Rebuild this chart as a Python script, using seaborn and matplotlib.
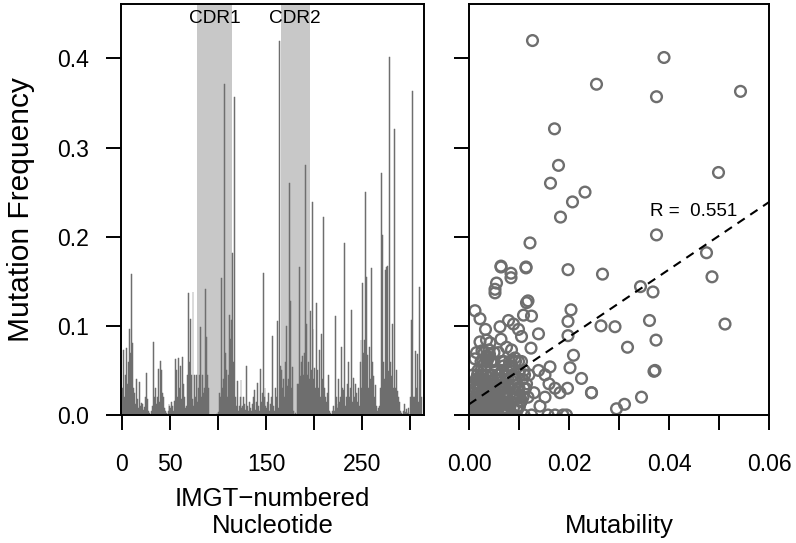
import numpy as np
import pandas as pd
import matplotlib
matplotlib.use("Agg")
import matplotlib.pyplot as plt
import seaborn as sns

# mutation frequency per IMGT-numbered nucleotide (1..312)
mutation_freq = [
    0.030, 0.073, 0.020, 0.045, 0.075, 0.035, 0.060, 0.096, 0.070, 0.158,   # 1-10
    0.081, 0.030, 0.025, 0.012, 0.040, 0.018, 0.008, 0.037, 0.010, 0.013,   # 11-20
    0.012, 0.006, 0.009, 0.004, 0.020, 0.047, 0.018, 0.005, 0.002, 0.000,   # 21-30
    0.004, 0.010, 0.082, 0.020, 0.030, 0.012, 0.020, 0.052, 0.015, 0.061,   # 31-40
    0.050, 0.025, 0.020, 0.008, 0.004, 0.002, 0.000, 0.005, 0.012, 0.010,   # 41-50
    0.008, 0.015, 0.010, 0.005, 0.016, 0.063, 0.050, 0.020, 0.064, 0.030,   # 51-60
    0.055, 0.018, 0.065, 0.035, 0.020, 0.008, 0.010, 0.045, 0.137, 0.060,   # 61-70
    0.108, 0.045, 0.018, 0.138, 0.010, 0.045, 0.020, 0.045, 0.015, 0.030,   # 71-80
    0.045, 0.099, 0.020, 0.045, 0.025, 0.030, 0.141, 0.088, 0.045, 0.030,   # 81-90
    0.000, 0.000, 0.000, 0.000, 0.000, 0.000, 0.000, 0.000, 0.002, 0.000,   # 91-100
    0.003, 0.025, 0.020, 0.154, 0.030, 0.040, 0.371, 0.070, 0.050, 0.020,   # 101-110
    0.045, 0.112, 0.085, 0.106, 0.182, 0.060, 0.357, 0.020, 0.010, 0.038,   # 111-120
    0.005, 0.010, 0.020, 0.039, 0.008, 0.010, 0.020, 0.012, 0.006, 0.055,   # 121-130
    0.010, 0.004, 0.015, 0.008, 0.005, 0.012, 0.020, 0.028, 0.006, 0.015,   # 131-140
    0.036, 0.010, 0.005, 0.052, 0.015, 0.025, 0.159, 0.020, 0.030, 0.010,   # 141-150
    0.008, 0.015, 0.025, 0.005, 0.012, 0.020, 0.089, 0.010, 0.004, 0.030,   # 151-160
    0.020, 0.105, 0.008, 0.420, 0.055, 0.050, 0.030, 0.040, 0.020, 0.060,   # 161-170
    0.100, 0.032, 0.040, 0.020, 0.260, 0.128, 0.030, 0.054, 0.005, 0.000,   # 171-180
    0.002, 0.000, 0.035, 0.035, 0.166, 0.044, 0.060, 0.066, 0.045, 0.070,   # 181-190
    0.280, 0.102, 0.045, 0.060, 0.040, 0.117, 0.050, 0.239, 0.096, 0.040,   # 191-200
    0.053, 0.030, 0.126, 0.050, 0.030, 0.073, 0.020, 0.091, 0.040, 0.222,   # 201-210
    0.030, 0.020, 0.015, 0.025, 0.045, 0.005, 0.002, 0.000, 0.004, 0.010,   # 211-220
    0.005, 0.111, 0.020, 0.012, 0.008, 0.040, 0.015, 0.020, 0.076, 0.030,   # 221-230
    0.028, 0.193, 0.010, 0.020, 0.035, 0.060, 0.020, 0.030, 0.118, 0.015,   # 231-240
    0.041, 0.020, 0.035, 0.025, 0.015, 0.030, 0.010, 0.060, 0.084, 0.030,   # 241-250
    0.148, 0.070, 0.084, 0.250, 0.155, 0.067, 0.030, 0.076, 0.040, 0.165,   # 251-260
    0.060, 0.044, 0.020, 0.034, 0.010, 0.005, 0.008, 0.010, 0.030, 0.272,   # 261-270
    0.202, 0.060, 0.040, 0.163, 0.099, 0.166, 0.167, 0.049, 0.401, 0.060,   # 271-280
    0.044, 0.102, 0.030, 0.321, 0.030, 0.050, 0.027, 0.020, 0.015, 0.005,   # 281-290
    0.002, 0.000, 0.004, 0.012, 0.003, 0.007, 0.002, 0.008, 0.000, 0.003,   # 291-300
    0.020, 0.106, 0.363, 0.020, 0.020, 0.072, 0.030, 0.068, 0.015, 0.144,   # 301-310
    0.050, 0.020,                                                           # 311-312
]

# mutability of the same nucleotides
mutability = [
    0.0030, 0.0040, 0.0015, 0.0060, 0.0124, 0.0020, 0.0070, 0.0099, 0.0050, 0.0267,
    0.0042, 0.0080, 0.0035, 0.0010, 0.0090, 0.0045, 0.0025, 0.0065, 0.0008, 0.0055,
    0.0020, 0.0012, 0.0040, 0.0006, 0.0075, 0.0100, 0.0030, 0.0018, 0.0009, 0.0004,
    0.0022, 0.0048, 0.0022, 0.0058, 0.0110, 0.0033, 0.0013, 0.0085, 0.0062, 0.0028,
    0.0052, 0.0095, 0.0038, 0.0016, 0.0027, 0.0011, 0.0007, 0.0044, 0.0068, 0.0024,
    0.0036, 0.0078, 0.0014, 0.0050, 0.0105, 0.0012, 0.0066, 0.0026, 0.0092, 0.0046,
    0.0080, 0.0019, 0.0040, 0.0115, 0.0053, 0.0029, 0.0060, 0.0017, 0.0052, 0.0105,
    0.0022, 0.0072, 0.0088, 0.0368, 0.0032, 0.0120, 0.0049, 0.0034, 0.0010, 0.0063,
    0.0087, 0.0292, 0.0021, 0.0058, 0.0130, 0.0041, 0.0052, 0.0105, 0.0026, 0.0097,
    0.0010, 0.0035, 0.0060, 0.0085, 0.0020, 0.0110, 0.0045, 0.0070, 0.0015, 0.0125,
    0.0050, 0.0025, 0.0102, 0.0084, 0.0018, 0.0062, 0.0255, 0.0030, 0.0110, 0.0039,
    0.0008, 0.0109, 0.0064, 0.0079, 0.0475, 0.0044, 0.0375, 0.0093, 0.0055, 0.0023,
    0.0037, 0.0016, 0.0070, 0.0047, 0.0098, 0.0028, 0.0011, 0.0076, 0.0043, 0.0069,
    0.0057, 0.0021, 0.0032, 0.0089, 0.0012, 0.0051, 0.0118, 0.0036, 0.0066, 0.0015,
    0.0027, 0.0082, 0.0040, 0.0031, 0.0061, 0.0182, 0.0084, 0.0047, 0.0019, 0.0101,
    0.0034, 0.0054, 0.0009, 0.0074, 0.0025, 0.0090, 0.0198, 0.0038, 0.0013, 0.0056,
    0.0029, 0.0198, 0.0072, 0.0127, 0.0035, 0.0139, 0.0086, 0.0014, 0.0061, 0.0045,
    0.0264, 0.0023, 0.0094, 0.0042, 0.0163, 0.0118, 0.0067, 0.0162, 0.0030, 0.0158,
    0.0017, 0.0172, 0.0160, 0.0053, 0.0114, 0.0027, 0.0081, 0.0035, 0.0111, 0.0059,
    0.0179, 0.0089, 0.0046, 0.0099, 0.0021, 0.0012, 0.0076, 0.0207, 0.0033, 0.0107,
    0.0202, 0.0039, 0.0115, 0.0024, 0.0063, 0.0085, 0.0048, 0.0139, 0.0016, 0.0183,
    0.0073, 0.0031, 0.0058, 0.0245, 0.0152, 0.0043, 0.0020, 0.0188, 0.0065, 0.0011,
    0.0096, 0.0125, 0.0026, 0.0049, 0.0014, 0.0078, 0.0040, 0.0108, 0.0075, 0.0172,
    0.0018, 0.0122, 0.0055, 0.0152, 0.0030, 0.0066, 0.0091, 0.0044, 0.0204, 0.0022,
    0.0225, 0.0060, 0.0012, 0.0245, 0.0083, 0.0037, 0.0050, 0.0024, 0.0374, 0.0070,
    0.0055, 0.0015, 0.0035, 0.0232, 0.0486, 0.0209, 0.0100, 0.0317, 0.0057, 0.0114,
    0.0036, 0.0088, 0.0019, 0.0068, 0.0142, 0.0027, 0.0045, 0.0009, 0.0081, 0.0499,
    0.0375, 0.0050, 0.0031, 0.0198, 0.0062, 0.0064, 0.0064, 0.0370, 0.0390, 0.0093,
    0.0043, 0.0512, 0.0197, 0.0171, 0.0013, 0.0372, 0.0059, 0.0034, 0.0104, 0.0022,
    0.0070, 0.0195, 0.0039, 0.0311, 0.0016, 0.0295, 0.0052, 0.0029, 0.0085, 0.0011,
    0.0047, 0.0361, 0.0543, 0.0345, 0.0075, 0.0026, 0.0113, 0.0041, 0.0063, 0.0343,
    0.0018, 0.0096,
]

cdr_names = ["CDR1", "CDR2"]
cdr_start = [79, 166]
cdr_end = [114, 195]

nt_ticks = [0, 50, 100, 150, 200, 250, 300]
nt_ticklabels = ["0", "50", "", "150", "", "250", ""]
freq_ticks = [0.0, 0.1, 0.2, 0.3, 0.4]
mut_ticks = [0.00, 0.01, 0.02, 0.03, 0.04, 0.05, 0.06]
mut_ticklabels = ["0.00", "", "0.02", "", "0.04", "", "0.06"]

# fitted line and its correlation
fit_intercept = 0.012
fit_slope = 3.78
r_label = "R =  0.551"

df = pd.DataFrame({
    "nt": np.arange(1, len(mutation_freq) + 1),
    "freq": mutation_freq,
    "mut": mutability,
})

sns.set_style("ticks")
plt.rcParams["font.family"] = ["Liberation Sans", "DejaVu Sans"]
plt.rcParams["text.color"] = "black"
plt.rcParams["axes.labelcolor"] = "black"

bar_col = "#6e6e6e"
tick_fs = 16.6
lab_fs = 18.5
ymax = 0.461

fig = plt.figure(figsize=(7.96, 5.43), dpi=100)
ax1 = fig.add_axes([121 / 796, 1 - 415 / 543, 303 / 796, 411 / 543])
ax2 = fig.add_axes([469 / 796, 1 - 415 / 543, 300 / 796, 411 / 543])

# left: per-nucleotide mutation frequency with CDR shading
for name, s, e in zip(cdr_names, cdr_start, cdr_end):
    ax1.axvspan(s - 0.5, e + 0.5, color="#c8c8c8", lw=0, zorder=0)
    ax1.text((s + e) / 2, 0.445, name, ha="center", va="center", fontsize=13.7)

sns.barplot(data=df, x="nt", y="freq", native_scale=True, width=1.0,
            color=bar_col, saturation=1, edgecolor=bar_col, linewidth=0.35,
            errorbar=None, ax=ax1)

ax1.set_xlim(-1, 314.6)
ax1.set_ylim(0, ymax)
ax1.set_xticks(nt_ticks)
ax1.set_xticklabels(nt_ticklabels)
ax1.set_yticks(freq_ticks)
ax1.set_yticklabels([f"{t:.1f}" for t in freq_ticks])
ax1.set_xlabel("IMGT\u2212numbered\nNucleotide", fontsize=lab_fs, va="bottom")
ax1.xaxis.set_label_coords(0.5, -0.3)
ax1.set_ylabel("Mutation Frequency", fontsize=21.5, va="center")
ax1.yaxis.set_label_coords(-0.33, 0.5)

# right: mutability vs frequency
sns.scatterplot(data=df, x="mut", y="freq", ax=ax2, s=60, marker="o",
                facecolor="none", edgecolor=bar_col, linewidth=1.7)
ax2.axline((0, fit_intercept), slope=fit_slope, color="black", lw=1.5,
           linestyle=(0, (4.2, 3.2)))
ax2.text(0.0362, 0.2288, r_label, ha="left", va="center", fontsize=13.6)

ax2.set_xlim(0, 0.06)
ax2.set_ylim(0, ymax)
ax2.set_xticks(mut_ticks)
ax2.set_xticklabels(mut_ticklabels)
ax2.set_yticks(freq_ticks)
ax2.set_yticklabels([])
ax2.set_xlabel("Mutability", fontsize=lab_fs, va="bottom")
ax2.xaxis.set_label_coords(0.5, -0.3)
ax2.set_ylabel("")

for ax in (ax1, ax2):
    for sp in ax.spines.values():
        sp.set_visible(True)
        sp.set_linewidth(1.4)
        sp.set_color("black")
    ax.tick_params(axis="both", length=10.8, width=1.4, color="black",
                   labelsize=tick_fs, labelcolor="black")
    ax.tick_params(axis="x", pad=16.5)
    ax.tick_params(axis="y", pad=12)

fig.savefig("out.png", dpi=100)
